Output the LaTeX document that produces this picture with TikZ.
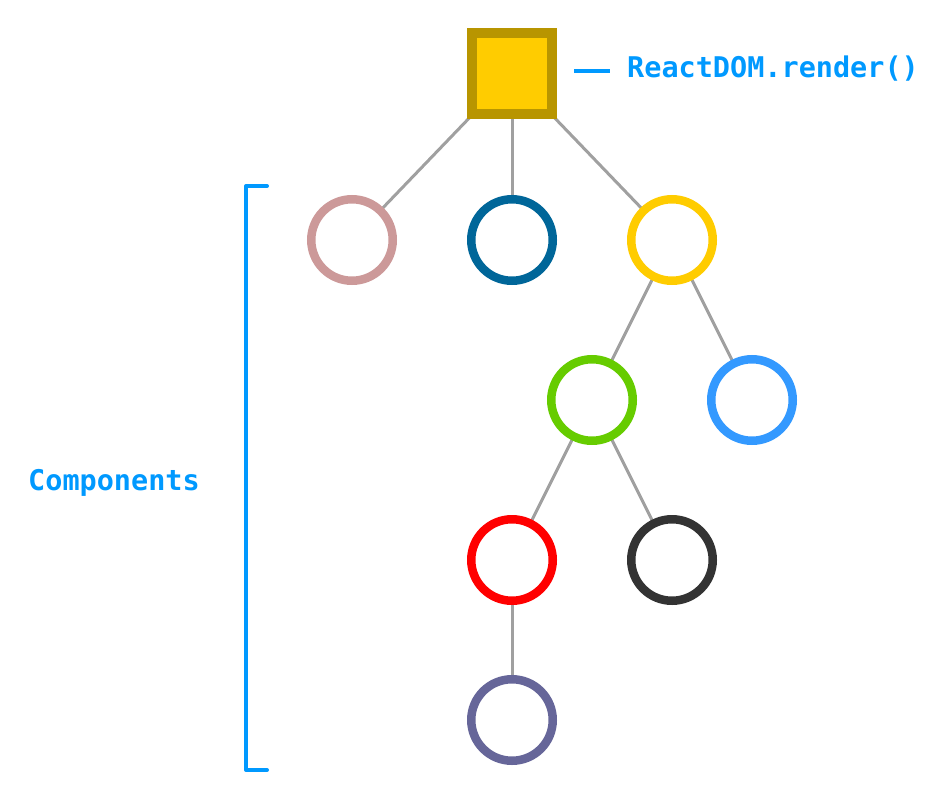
\documentclass[tikz,border=0pt]{standalone}
\usepackage{fontspec}
\newfontfamily\labelfont{DejaVu Sans Mono}
\definecolor{lblue}{RGB}{0,153,255}
\definecolor{edgegray}{RGB}{160,160,160}
\definecolor{sqfill}{RGB}{255,204,0}
\definecolor{sqborder}{RGB}{184,149,0}
\definecolor{cpink}{RGB}{204,153,153}
\definecolor{cdblue}{RGB}{0,102,153}
\definecolor{cyellow}{RGB}{255,204,0}
\definecolor{cgreen}{RGB}{102,204,0}
\definecolor{cblue}{RGB}{51,153,255}
\definecolor{cred}{RGB}{255,0,0}
\definecolor{cdark}{RGB}{51,51,51}
\definecolor{cpurple}{RGB}{102,102,153}
\begin{document}
\begin{tikzpicture}[x=1pt,y=-1pt,
  comp/.style={circle,draw=#1,line width=8.5pt,fill=white,minimum size=81.5pt,inner sep=0pt},
  edge/.style={draw=edgegray,line width=3pt},
  lbl/.style={text=lblue,font=\labelfont\bfseries\fontsize{28.5}{30}\selectfont,inner sep=0pt},
  bluemarker/.style={draw=lblue,line width=4pt}]
\useasboundingbox (0,0) rectangle (950,800);
\coordinate (rc) at (512,73.5);
\coordinate (pc) at (352,240);
\coordinate (dc) at (512,240);
\coordinate (yc) at (672,240);
\coordinate (gc) at (592,400);
\coordinate (bc) at (752,400);
\coordinate (redc) at (512,560);
\coordinate (kc) at (672,560);
\coordinate (uc) at (512,720);
% edges behind
\draw[edge] (rc) -- (pc);
\draw[edge] (rc) -- (dc);
\draw[edge] (rc) -- (yc);
\draw[edge] (yc) -- (gc);
\draw[edge] (yc) -- (bc);
\draw[edge] (gc) -- (redc);
\draw[edge] (gc) -- (kc);
\draw[edge] (redc) -- (uc);
% nodes
\node[rectangle,draw=sqborder,fill=sqfill,line width=10pt,minimum size=80pt,inner sep=0pt] (root) at (rc) {};
\node[comp=cpink] (pink) at (pc) {};
\node[comp=cdblue] (dblue) at (dc) {};
\node[comp=cyellow] (yellow) at (yc) {};
\node[comp=cgreen] (green) at (gc) {};
\node[comp=cblue] (blue) at (bc) {};
\node[comp=cred] (red) at (redc) {};
\node[comp=cdark] (dark) at (kc) {};
\node[comp=cpurple] (purple) at (uc) {};
% labels
\coordinate (m1) at (574,71);
\coordinate (m2) at (610,71);
\draw[bluemarker] (m1) -- (m2);
\node[lbl,anchor=west] (render) at (627,69) {ReactDOM.render()};
\coordinate (b1) at (267,186);
\coordinate (b2) at (246,186);
\coordinate (b3) at (246,770);
\coordinate (b4) at (267,770);
\draw[bluemarker,line cap=round,line join=round] (b1) -- (b2) -- (b3) -- (b4);
\node[lbl,anchor=west] (comps) at (28,483) {Components};
\end{tikzpicture}
\end{document}
